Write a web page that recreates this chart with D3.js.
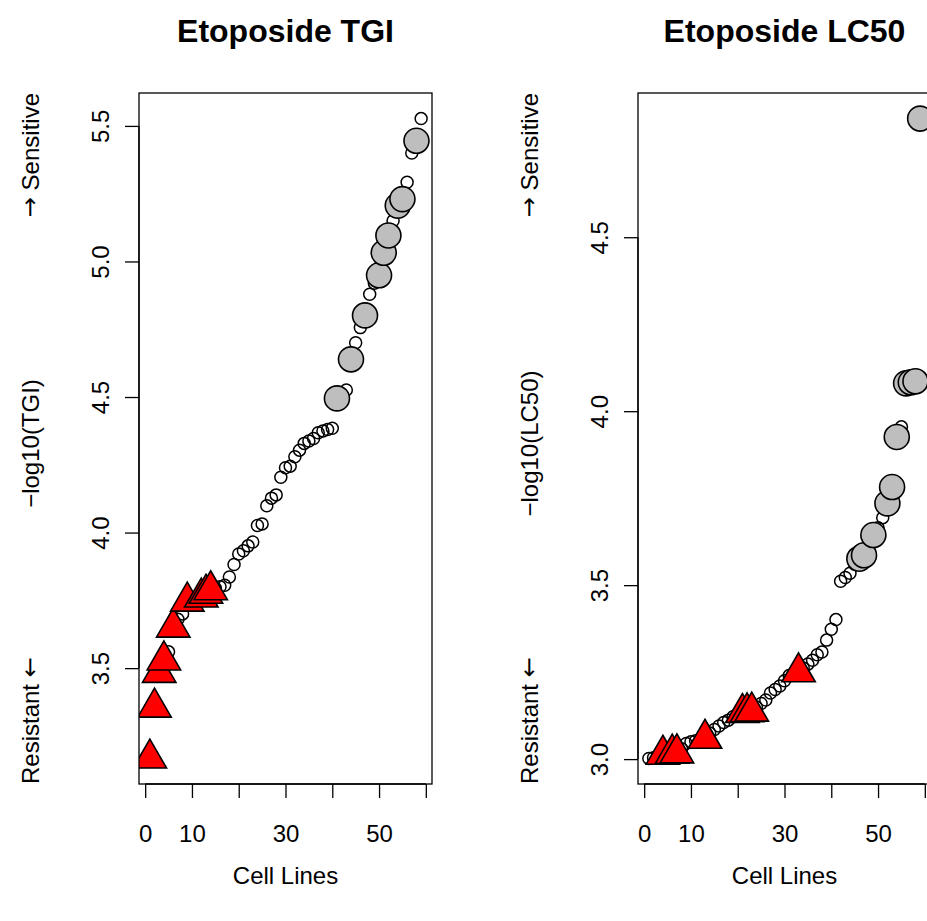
<!DOCTYPE html>
<html>
  <head>
    <meta charset="utf-8">
    <script src="https://d3js.org/d3.v7.min.js"></script>
    <title>Etoposide TGI / LC50</title>
    <style>
      body { margin: 0px; background: #fff; overflow: hidden; }
      svg { display: block; }
      text { font-family: "Liberation Sans", Arial, sans-serif; fill: #000; }
      .title { font-size: 32px; font-weight: bold; }
      .tick-label, .axis-label, .side-label { font-size: 24px; }
      .arrow { font-family: "DejaVu Sans", sans-serif; }
    </style>
  </head>
  <body>
    <svg width="927" height="921"></svg>
    <script>
      // sorted -log10 values, one per cell line (rank 1..59)
      const tgiValues = [
        3.167, 3.355, 3.483, 3.529, 3.560, 3.650, 3.680, 3.700, 3.746, 3.750,
        3.755, 3.761, 3.775, 3.788, 3.795, 3.800, 3.806, 3.836, 3.882, 3.921,
        3.933, 3.951, 3.965, 4.026, 4.032, 4.099, 4.127, 4.139, 4.204, 4.239,
        4.245, 4.280, 4.304, 4.329, 4.338, 4.347, 4.368, 4.375, 4.380, 4.385,
        4.495, 4.510, 4.526, 4.639, 4.700, 4.756, 4.801, 4.879, 4.920, 4.949,
        5.032, 5.096, 5.150, 5.206, 5.230, 5.292, 5.400, 5.445, 5.527
      ];
      const tgiResistant = [1, 2, 3, 4, 6, 9, 12, 13, 14];
      const tgiHighlight = [41, 44, 47, 50, 51, 52, 54, 55, 58];

      const lc50Values = [
        3.002, 3.004, 3.008, 3.013, 3.015, 3.016, 3.017, 3.030, 3.045, 3.050,
        3.053, 3.056, 3.059, 3.075, 3.085, 3.095, 3.105, 3.112, 3.122, 3.130,
        3.133, 3.135, 3.137, 3.150, 3.160, 3.170, 3.190, 3.200, 3.210, 3.225,
        3.240, 3.245, 3.250, 3.262, 3.273, 3.284, 3.300, 3.308, 3.342, 3.373,
        3.401, 3.511, 3.522, 3.534, 3.560, 3.576, 3.586, 3.600, 3.644, 3.665,
        3.694, 3.735, 3.782, 3.926, 3.955, 4.080, 4.083, 4.086, 4.841
      ];
      const lc50Resistant = [4, 6, 7, 13, 21, 22, 23, 33];
      const lc50Highlight = [46, 47, 49, 52, 53, 54, 56, 57, 58, 59];

      const xTicks = [0, 10, 20, 30, 40, 50, 60];
      const xTickLabels = [0, 10, 30, 50];
      const tgiYTicks = [3.5, 4.0, 4.5, 5.0, 5.5];
      const lc50YTicks = [3.0, 3.5, 4.0, 4.5];

      const svg = d3.select('svg');

      const panels = [
        { title: 'Etoposide TGI', ylab: '\u2212log10(TGI)', values: tgiValues,
          resistant: tgiResistant, highlight: tgiHighlight, yTicks: tgiYTicks, left: 139 },
        { title: 'Etoposide LC50', ylab: '\u2212log10(LC50)', values: lc50Values,
          resistant: lc50Resistant, highlight: lc50Highlight, yTicks: lc50YTicks, left: 638 }
      ];

      const boxW = 293, boxTop = 93, boxBottom = 784;

      // R-style 4% padding around the data range
      const padded = ext => {
        const r = ext[1] - ext[0];
        return [ext[0] - 0.04 * r, ext[1] + 0.04 * r];
      };

      const triangle = d3.symbol(d3.symbolTriangle, 485);

      panels.forEach((p, pi) => {
        const data = p.values.map((v, i) => {
          const rank = i + 1;
          let kind = 'open';
          if (p.resistant.includes(rank)) kind = 'resistant';
          else if (p.highlight.includes(rank)) kind = 'highlight';
          return { rank, value: v, kind };
        });

        const x = d3.scaleLinear()
          .domain(padded(d3.extent(data, d => d.rank)))
          .range([p.left, p.left + boxW]);
        const y = d3.scaleLinear()
          .domain(padded(d3.extent(data, d => d.value)))
          .range([boxBottom, boxTop]);

        const g = svg.append('g');
        const cx = p.left + boxW / 2;

        // clip points to the plot region
        g.append('clipPath').attr('id', 'clip' + pi)
          .append('rect')
            .attr('x', p.left).attr('y', boxTop)
            .attr('width', boxW).attr('height', boxBottom - boxTop);

        const pts = g.append('g').attr('clip-path', `url(#clip${pi})`);

        pts.selectAll('circle.open')
          .data(data.filter(d => d.kind === 'open'))
          .enter().append('circle')
            .attr('class', 'open')
            .attr('cx', d => x(d.rank))
            .attr('cy', d => y(d.value))
            .attr('r', 6)
            .attr('fill', 'none')
            .attr('stroke', '#000')
            .attr('stroke-width', 1.5);

        pts.selectAll('circle.hl')
          .data(data.filter(d => d.kind === 'highlight'))
          .enter().append('circle')
            .attr('class', 'hl')
            .attr('cx', d => x(d.rank))
            .attr('cy', d => y(d.value))
            .attr('r', 12.5)
            .attr('fill', '#BEBEBE')
            .attr('stroke', '#000')
            .attr('stroke-width', 1.6);

        pts.selectAll('path.res')
          .data(data.filter(d => d.kind === 'resistant'))
          .enter().append('path')
            .attr('class', 'res')
            .attr('d', triangle)
            .attr('transform', d => `translate(${x(d.rank)},${y(d.value)})`)
            .attr('fill', '#FF0000')
            .attr('stroke', '#000')
            .attr('stroke-width', 1.6)
            .attr('stroke-linejoin', 'miter');

        // plot box
        g.append('rect')
          .attr('x', p.left).attr('y', boxTop)
          .attr('width', boxW).attr('height', boxBottom - boxTop)
          .attr('fill', 'none')
          .attr('stroke', '#000')
          .attr('stroke-width', 1.3);

        // x axis
        const xAxis = d3.axisBottom(x)
          .tickValues(xTicks)
          .tickSize(14)
          .tickPadding(16)
          .tickFormat(d => xTickLabels.includes(d) ? d : '');
        const xAxisG = g.append('g')
          .attr('transform', `translate(0,${boxBottom})`)
          .call(xAxis);
        xAxisG.select('.domain')
          .attr('d', `M${x(xTicks[0])},0H${x(xTicks[xTicks.length - 1])}`)
          .attr('stroke-width', 1.3);
        xAxisG.selectAll('.tick line').attr('stroke-width', 1.3);
        xAxisG.selectAll('.tick text')
          .attr('class', 'tick-label')
          .attr('font-size', null)
          .attr('font-family', null)
          .attr('y', 49).attr('dy', null)
          .attr('dominant-baseline', 'central');

        // y axis with rotated labels
        const yAxis = d3.axisLeft(y)
          .tickValues(p.yTicks)
          .tickSize(14)
          .tickFormat(d3.format('.1f'));
        const yAxisG = g.append('g')
          .attr('transform', `translate(${p.left},0)`)
          .call(yAxis);
        yAxisG.select('.domain')
          .attr('d', `M0,${y(p.yTicks[0])}V${y(p.yTicks[p.yTicks.length - 1])}`)
          .attr('stroke-width', 1.3);
        yAxisG.selectAll('.tick line').attr('stroke-width', 1.3);
        yAxisG.selectAll('.tick text')
          .attr('class', 'tick-label')
          .attr('font-size', null)
          .attr('font-family', null)
          .attr('x', null).attr('dy', null)
          .attr('text-anchor', 'middle')
          .attr('dominant-baseline', 'central')
          .attr('transform', 'translate(-39,0) rotate(-90)');

        // titles and labels
        g.append('text')
          .attr('class', 'title')
          .attr('x', cx).attr('y', 31)
          .attr('text-anchor', 'middle')
          .attr('dominant-baseline', 'central')
          .text(p.title);

        g.append('text')
          .attr('class', 'axis-label')
          .attr('x', cx).attr('y', 875)
          .attr('text-anchor', 'middle')
          .attr('dominant-baseline', 'central')
          .text('Cell Lines');

        const lx = p.left - 109;
        g.append('text')
          .attr('class', 'axis-label')
          .attr('transform', `translate(${lx},${(boxTop + boxBottom) / 2 + 5}) rotate(-90)`)
          .attr('text-anchor', 'middle')
          .attr('dominant-baseline', 'central')
          .text(p.ylab);

        const sens = g.append('text')
          .attr('class', 'side-label')
          .attr('transform', `translate(${lx},${boxTop}) rotate(-90)`)
          .attr('text-anchor', 'end')
          .attr('dominant-baseline', 'central');
        sens.append('tspan').attr('class', 'arrow').text('\u2192');
        sens.append('tspan').text(' Sensitive');

        const res = g.append('text')
          .attr('class', 'side-label')
          .attr('transform', `translate(${lx},${boxBottom}) rotate(-90)`)
          .attr('text-anchor', 'start')
          .attr('dominant-baseline', 'central');
        res.append('tspan').text('Resistant ');
        res.append('tspan').attr('class', 'arrow').text('\u2190');
      });
    </script>
  </body>
</html>
